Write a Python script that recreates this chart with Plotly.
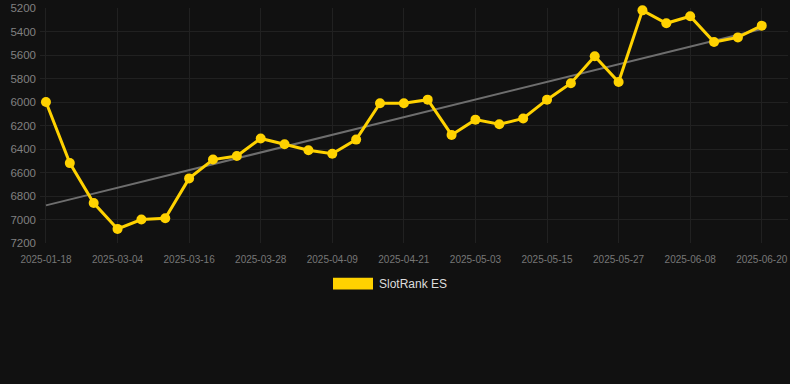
import numpy as np
import plotly.graph_objects as go

dates = [
    "2025-01-18", "2025-02-26", "2025-03-01", "2025-03-04", "2025-03-08", "2025-03-12",
    "2025-03-16", "2025-03-20", "2025-03-24", "2025-03-28", "2025-04-01", "2025-04-05",
    "2025-04-09", "2025-04-13", "2025-04-17", "2025-04-21", "2025-04-25", "2025-04-29",
    "2025-05-03", "2025-05-07", "2025-05-11", "2025-05-15", "2025-05-19", "2025-05-23",
    "2025-05-27", "2025-05-31", "2025-06-04", "2025-06-08", "2025-06-12", "2025-06-16",
    "2025-06-20",
]
ranks = [
    6000, 6520, 6860, 7080, 7000, 6990, 6650, 6490, 6460, 6310, 6360, 6410,
    6440, 6320, 6010, 6010, 5980, 6280, 6150, 6190, 6140, 5980, 5840, 5610,
    5830, 5220, 5330, 5270, 5490, 5450, 5350,
]
series_name = "SlotRank ES"
y_ticks = [5200, 5400, 5600, 5800, 6000, 6200, 6400, 6600, 6800, 7000, 7200]

idx = np.arange(len(ranks))
slope, intercept = np.polyfit(idx, ranks, 1)
trend = slope * idx + intercept

BG = "#111111"
GOLD = "#FFD200"

fig = go.Figure()
fig.add_trace(go.Scatter(
    x=[idx[0], idx[-1]], y=[trend[0], trend[-1]], mode="lines",
    line=dict(color="#6e6e6e", width=2), showlegend=False, hoverinfo="skip",
))
fig.add_trace(go.Scatter(
    x=idx, y=ranks, mode="lines+markers", name=series_name,
    line=dict(color=GOLD, width=3),
    marker=dict(color=GOLD, size=10),
    showlegend=False, cliponaxis=False,
))

tick_idx = list(range(0, len(dates), 3))
fig.update_layout(
    width=790, height=384,
    margin=dict(l=40, r=2, t=6, b=141),
    paper_bgcolor=BG, plot_bgcolor=BG,
    font=dict(family="Liberation Sans, Arial, sans-serif"),
    xaxis=dict(
        range=[-0.25, 31.1],
        tickmode="array", tickvals=tick_idx, ticktext=[dates[i] for i in tick_idx],
        showgrid=True, gridcolor="#212121", gridwidth=1,
        zeroline=False, showline=False,
        tickfont=dict(size=10, color="#777777"),
        ticks="", ticklabelstandoff=9,
    ),
    yaxis=dict(
        range=[7200, 5200],
        tickmode="array", tickvals=y_ticks,
        showgrid=True, gridcolor="#212121", gridwidth=1,
        zeroline=False, showline=False,
        tickfont=dict(size=11.5, color="#808080"),
        ticks="", ticklabelstandoff=3,
    ),
    showlegend=False,
)

# Legend drawn like a box legend below the chart
fig.add_shape(type="rect", xref="paper", yref="paper",
              x0=(333 - 40) / 748, x1=(373 - 40) / 748,
              y0=-(290 - 243) / 237, y1=-(278 - 243) / 237,
              fillcolor=GOLD, line=dict(width=0))
fig.add_annotation(xref="paper", yref="paper",
                   x=(377 - 40) / 748, y=-(284 - 243) / 237,
                   xanchor="left", yanchor="middle", showarrow=False,
                   text=series_name, font=dict(size=12, color="#dddddd"))

fig.write_html("out.html", config={"displayModeBar": False},
               post_script="document.body.style.margin='0';document.body.style.background='#111111';")
